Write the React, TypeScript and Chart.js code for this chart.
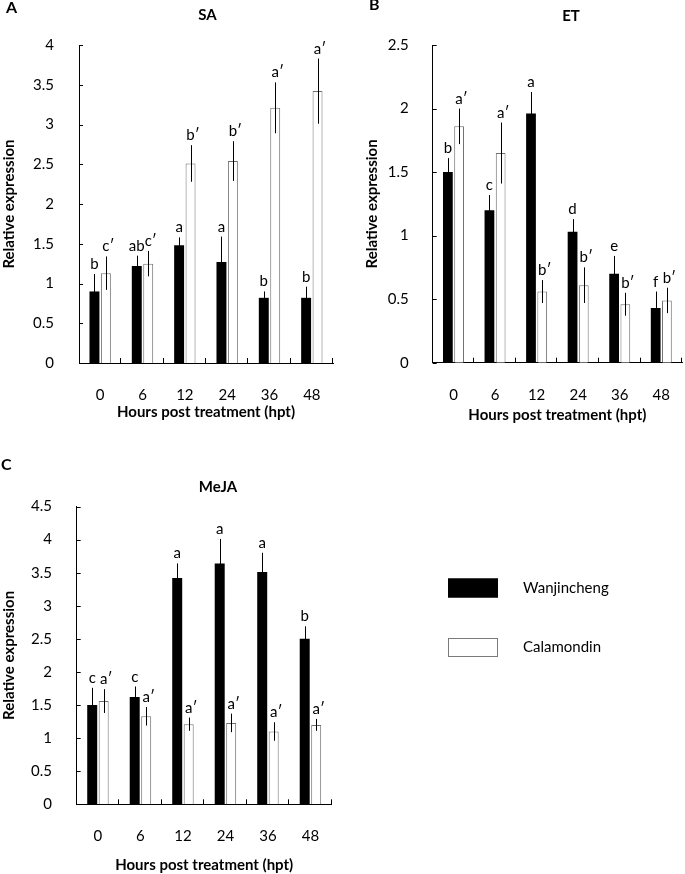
import React, { useEffect, useRef } from 'react';
import { Chart, registerables } from 'chart.js';

Chart.register(...registerables);

// ---------- DATA ----------
const hours = ['0', '6', '12', '24', '36', '48'];
const seriesNames = ['Wanjincheng', 'Calamondin'];

// SA
const saWanjincheng = [0.9, 1.22, 1.48, 1.27, 0.82, 0.82];
const saWanjinchengErr = [0.22, 0.13, 0.1, 0.32, 0.08, 0.14];
const saWanjinchengSig = ['b', 'ab', 'a', 'a', 'b', 'b'];
const saCalamondin = [1.13, 1.25, 2.51, 2.54, 3.21, 3.42];
const saCalamondinErr = [0.21, 0.16, 0.23, 0.25, 0.32, 0.41];
const saCalamondinSig = ['c′', 'c′', 'b′', 'b′', 'a′', 'a′'];

// ET
const etWanjincheng = [1.5, 1.2, 1.96, 1.03, 0.7, 0.43];
const etWanjinchengErr = [0.11, 0.12, 0.17, 0.1, 0.14, 0.13];
const etWanjinchengSig = ['b', 'c', 'a', 'd', 'e', 'f'];
const etCalamondin = [1.86, 1.65, 0.56, 0.61, 0.46, 0.49];
const etCalamondinErr = [0.14, 0.24, 0.09, 0.14, 0.09, 0.1];
const etCalamondinSig = ['a′', 'a′', 'b′', 'b′', 'b′', 'b′'];

// MeJA
const mejaWanjincheng = [1.5, 1.62, 3.42, 3.64, 3.51, 2.5];
const mejaWanjinchengErr = [0.26, 0.16, 0.22, 0.37, 0.29, 0.19];
const mejaWanjinchengSig = ['c', 'c', 'a', 'a', 'a', 'b'];
const mejaCalamondin = [1.56, 1.33, 1.21, 1.23, 1.1, 1.2];
const mejaCalamondinErr = [0.18, 0.14, 0.1, 0.14, 0.14, 0.09];
const mejaCalamondinSig = ['a′', 'a′', 'a′', 'a′', 'a′', 'a′'];

const yMaxSA = 4;
const yMaxET = 2.5;
const yMaxMeJA = 4.5;

const yTitle = 'Relative expression';
const xTitle = 'Hours post treatment (hpt)';

// ---------- STYLE ----------
const FONT = 'Lato, "Open Sans", "DejaVu Sans", sans-serif';

const errorBarsPlugin = {
  id: 'errorBars',
  afterDatasetsDraw(chart: any) {
    const ctx = chart.ctx;
    const yScale = chart.scales.y;
    ctx.save();
    chart.data.datasets.forEach((ds: any, di: number) => {
      const meta = chart.getDatasetMeta(di);
      meta.data.forEach((el: any, i: number) => {
        const v = ds.data[i];
        const e = ds.errors[i];
        const x = Math.round(el.x) + 0.5;
        const yTop = yScale.getPixelForValue(v + e);
        const yBot = yScale.getPixelForValue(v - e);
        ctx.strokeStyle = '#000';
        ctx.lineWidth = 1;
        ctx.beginPath();
        ctx.moveTo(x, yBot);
        ctx.lineTo(x, yTop);
        ctx.stroke();
        const sig = ds.sig[i];
        ctx.font = '15px ' + FONT;
        ctx.fillStyle = '#000';
        ctx.textBaseline = 'alphabetic';
        ctx.textAlign = 'left';
        const base = sig.replace('′', '');
        const wb = ctx.measureText(base).width;
        ctx.fillText(sig, el.x - wb / 2, yTop - 5);
      });
    });
    ctx.restore();
  },
};

const axisTicksPlugin = {
  id: 'axisTicks',
  afterDraw(chart: any) {
    const ctx = chart.ctx;
    const a = chart.chartArea;
    const yScale = chart.scales.y;
    const n = chart.data.labels.length;
    ctx.save();
    ctx.strokeStyle = '#000';
    ctx.lineWidth = 1;
    ctx.beginPath();
    yScale.ticks.forEach((t: any) => {
      const y = Math.round(yScale.getPixelForValue(t.value)) + 0.5;
      ctx.moveTo(a.left, y);
      ctx.lineTo(a.left + 4, y);
    });
    const w = (a.right - a.left) / n;
    for (let i = 1; i <= n; i++) {
      const x = Math.round(a.left + i * w) - 0.5;
      ctx.moveTo(x, a.bottom);
      ctx.lineTo(x, a.bottom - 5);
    }
    ctx.stroke();
    ctx.restore();
  },
};

const panelTextPlugin = {
  id: 'panelText',
  afterDraw(chart: any, _args: any, opts: any) {
    const ctx = chart.ctx;
    ctx.save();
    ctx.fillStyle = '#000';
    ctx.font = 'bold 15px ' + FONT;
    ctx.textBaseline = 'middle';
    ctx.textAlign = 'center';
    ctx.fillText(opts.title, opts.titleX, opts.titleY);
    ctx.font = 'bold 16px ' + FONT;
    ctx.textAlign = 'left';
    ctx.fillText(opts.letter, opts.letterX, opts.letterY);
    ctx.restore();
  },
};

const sideLegendPlugin = {
  id: 'sideLegend',
  afterDraw(chart: any, _args: any, opts: any) {
    if (!opts || !opts.show) return;
    const ctx = chart.ctx;
    ctx.save();
    chart.data.datasets.forEach((ds: any, i: number) => {
      const y = opts.ys[i];
      ctx.fillStyle = ds.backgroundColor;
      ctx.fillRect(opts.boxX, y, opts.boxW, opts.boxH);
      ctx.strokeStyle = i === 0 ? '#000' : '#7a7a7a';
      ctx.lineWidth = 1;
      ctx.strokeRect(opts.boxX + 0.5, y + 0.5, opts.boxW - 1, opts.boxH - 1);
      ctx.fillStyle = '#000';
      ctx.font = '15px ' + FONT;
      ctx.textBaseline = 'middle';
      ctx.textAlign = 'left';
      ctx.fillText(ds.label, opts.textX, y + opts.boxH / 2);
    });
    ctx.restore();
  },
};

type PanelProps = {
  left: number;
  top: number;
  width: number;
  height: number;
  padTop: number;
  padRight: number;
  yWidth: number;
  xHeight: number;
  yMax: number;
  yTickPad: number;
  yTitlePad: number;
  xTitlePad: number;
  title: string;
  titleX: number;
  titleY: number;
  letter: string;
  letterX: number;
  letterY: number;
  wan: number[];
  wanErr: number[];
  wanSig: string[];
  cal: number[];
  calErr: number[];
  calSig: string[];
  legend?: any;
};

function Panel(p: PanelProps) {
  const ref = useRef<HTMLCanvasElement | null>(null);
  useEffect(() => {
    if (!ref.current) return;
    const chart = new Chart(ref.current, {
      type: 'bar',
      data: {
        labels: hours,
        datasets: [
          {
            label: seriesNames[0],
            data: p.wan,
            backgroundColor: '#000',
            borderWidth: 0,
            categoryPercentage: 0.54,
            barPercentage: 0.87,
            errors: p.wanErr,
            sig: p.wanSig,
          } as any,
          {
            label: seriesNames[1],
            data: p.cal,
            backgroundColor: '#fff',
            borderColor: '#6f6f6f',
            borderWidth: 1,
            borderSkipped: 'bottom',
            categoryPercentage: 0.54,
            barPercentage: 0.87,
            errors: p.calErr,
            sig: p.calSig,
          } as any,
        ],
      },
      options: {
        responsive: false,
        animation: false,
        devicePixelRatio: 1,
        layout: { padding: { top: p.padTop, right: p.padRight, left: 0, bottom: 0 } },
        plugins: {
          legend: { display: false },
          tooltip: { enabled: false },
          title: { display: false },
          panelText: {
            title: p.title,
            titleX: p.titleX,
            titleY: p.titleY,
            letter: p.letter,
            letterX: p.letterX,
            letterY: p.letterY,
          },
          sideLegend: p.legend || { show: false },
        } as any,
        scales: {
          x: {
            grid: { display: false },
            border: { display: true, color: '#000', width: 1 },
            ticks: { color: '#000', font: { family: FONT, size: 15 }, padding: 15 },
            title: {
              display: true,
              text: xTitle,
              color: '#000',
              font: { family: FONT, size: 15, weight: 'bold' },
              padding: { top: 0, bottom: p.xTitlePad },
            },
            afterFit: (s: any) => {
              s.height = p.xHeight;
            },
          },
          y: {
            min: 0,
            max: p.yMax,
            grid: { display: false },
            border: { display: true, color: '#000', width: 1 },
            ticks: {
              stepSize: 0.5,
              color: '#000',
              font: { family: FONT, size: 15 },
              padding: p.yTickPad,
              callback: (v: any) => String(v),
            },
            title: {
              display: true,
              text: yTitle,
              color: '#000',
              font: { family: FONT, size: 15, weight: 'bold' },
              padding: { top: p.yTitlePad, bottom: 0 },
            },
            afterFit: (s: any) => {
              s.width = p.yWidth;
            },
          },
        } as any,
      },
      plugins: [errorBarsPlugin, axisTicksPlugin, panelTextPlugin, sideLegendPlugin],
    });
    return () => chart.destroy();
  }, []);
  return (
    <canvas
      ref={ref}
      width={p.width}
      height={p.height}
      style={{ position: 'absolute', left: p.left, top: p.top, width: p.width, height: p.height }}
    />
  );
}

export default function App() {
  return (
    <div
      style={{
        position: 'fixed',
        left: 0,
        top: 0,
        width: 685,
        height: 874,
        overflow: 'hidden',
        background: '#fff',
      }}
    >
      <Panel
        left={0}
        top={0}
        width={340}
        height={440}
        padTop={45}
        padRight={7}
        yWidth={79}
        xHeight={77}
        yMax={yMaxSA}
        yTickPad={17}
        yTitlePad={0.5}
        xTitlePad={19}
        title="SA"
        titleX={207.5}
        titleY={15}
        letter="A"
        letterX={6}
        letterY={8}
        wan={saWanjincheng}
        wanErr={saWanjinchengErr}
        wanSig={saWanjinchengSig}
        cal={saCalamondin}
        calErr={saCalamondinErr}
        calSig={saCalamondinSig}
      />
      <Panel
        left={340}
        top={0}
        width={345}
        height={440}
        padTop={45}
        padRight={0}
        yWidth={92.7}
        xHeight={77.3}
        yMax={yMaxET}
        yTickPad={16}
        yTitlePad={23}
        xTitlePad={16}
        title="ET"
        titleX={231}
        titleY={16}
        letter="B"
        letterX={29}
        letterY={5}
        wan={etWanjincheng}
        wanErr={etWanjinchengErr}
        wanSig={etWanjinchengSig}
        cal={etCalamondin}
        calErr={etCalamondinErr}
        calSig={etCalamondinSig}
      />
      <Panel
        left={0}
        top={440}
        width={685}
        height={434}
        padTop={66.5}
        padRight={353.3}
        yWidth={76.7}
        xHeight={69.7}
        yMax={yMaxMeJA}
        yTickPad={16.7}
        yTitlePad={0}
        xTitlePad={0}
        title="MeJA"
        titleX={218}
        titleY={47}
        letter="C"
        letterX={1}
        letterY={25}
        wan={mejaWanjincheng}
        wanErr={mejaWanjinchengErr}
        wanSig={mejaWanjinchengSig}
        cal={mejaCalamondin}
        calErr={mejaCalamondinErr}
        calSig={mejaCalamondinSig}
        legend={{ show: true, boxX: 448, boxW: 50, boxH: 19, ys: [138.5, 198], textX: 523 }}
      />
    </div>
  );
}
